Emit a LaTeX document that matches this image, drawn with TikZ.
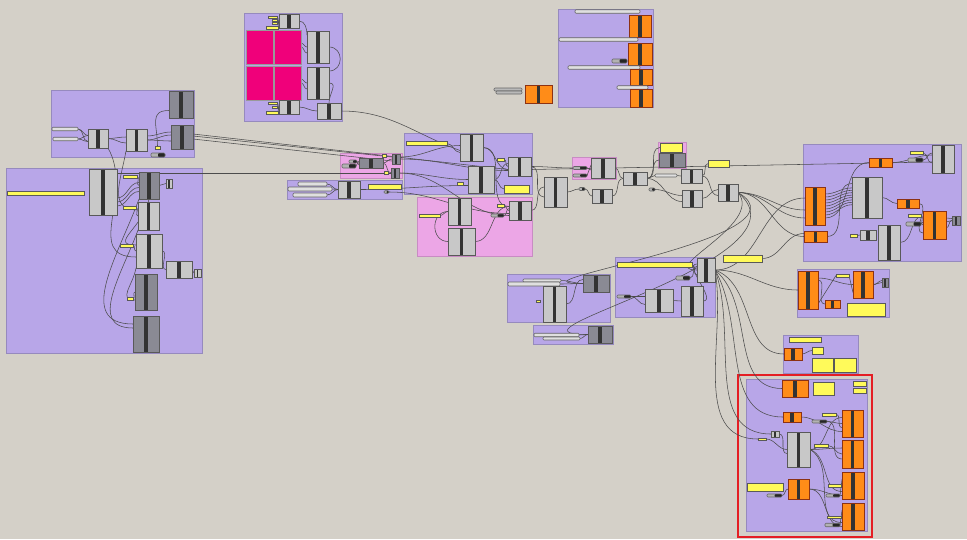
\documentclass[tikz,border=0pt]{standalone}
\usetikzlibrary{positioning}

\definecolor{canvas}{RGB}{212,208,200}
\definecolor{grpfill}{RGB}{184,166,232}
\definecolor{grpline}{RGB}{150,138,190}
\definecolor{pinkfill}{RGB}{236,166,230}
\definecolor{pinkline}{RGB}{200,140,195}
\definecolor{compgray}{RGB}{200,200,200}
\definecolor{compdark}{RGB}{138,138,148}
\definecolor{ghorange}{RGB}{255,140,24}
\definecolor{ghorline}{RGB}{140,50,20}
\definecolor{ghyellow}{RGB}{255,250,90}
\definecolor{ghmag}{RGB}{240,0,122}
\definecolor{hlred}{RGB}{228,30,36}

\pgfdeclarelayer{bg}
\pgfdeclarelayer{wires}
\pgfsetlayers{bg,wires,main}

\begin{document}
\begin{tikzpicture}[
    x=1pt, y=-1pt,
    sz/.style 2 args={minimum width=#1pt, minimum height=#2pt},
    group/.style={
        rectangle,
        draw=grpline,
        fill=grpfill,
        line width=0.8pt,
        inner sep=0pt,
        outer sep=0pt
    },
    pink group/.style={group, draw=pinkline, fill=pinkfill},
    comp/.style={
        rectangle,
        draw=black!65,
        fill=compgray,
        line width=0.7pt,
        inner sep=0pt,
        outer sep=0pt,
        path picture={\fill[black!80] ([xshift=-1.7pt]path picture bounding box.north) rectangle ([xshift=1.7pt]path picture bounding box.south);}
    },
    mini/.style={comp,
        path picture={\fill[black!80] ([xshift=-0.9pt]path picture bounding box.north) rectangle ([xshift=0.9pt]path picture bounding box.south);}
    },
    comp dark/.style={comp, fill=compdark},
    comp orange/.style={comp, draw=ghorline, fill=ghorange},
    panel/.style={
        rectangle,
        draw=black!65,
        fill=ghyellow,
        line width=0.7pt,
        inner sep=0pt,
        outer sep=0pt
    },
    tag/.style={panel, line width=0.5pt},
    slider/.style={
        rectangle,
        rounded corners=1pt,
        draw=black!60,
        fill=gray!25,
        line width=0.6pt,
        inner sep=0pt,
        outer sep=0pt
    },
    knob/.style={slider, fill=gray!60,
        path picture={\fill[black!85] (path picture bounding box.north) rectangle (path picture bounding box.south east);}
    },
    swatch/.style={rectangle, draw=black!40, fill=ghmag, line width=0.6pt, inner sep=0pt, outer sep=0pt},
    highlight/.style={rectangle, draw=hlred, fill=canvas, line width=2.2pt, inner sep=0pt},
    wire/.style={draw=black!70, line width=0.55pt}
]

\begin{pgfonlayer}{bg}
\fill[canvas] (0,0) rectangle (967,539);
\node[group, sz={143}{67}] (gInputs) at (122.5,123.5) {};
\node[group, sz={196}{185}] (gSetup) at (104,260.5) {};
\node[group, sz={98}{108}] (gSwatch) at (293,67) {};
\node[group, sz={95}{98}] (gParams) at (605.5,58) {};
\node[pink group, sz={62}{25}] (gMerge) at (371,165.5) {};
\node[group, sz={115}{19}] (gRange) at (344.5,189.5) {};
\node[group, sz={128}{61}] (gCore) at (468,163.5) {};
\node[pink group, sz={115}{59}] (gCoreB) at (474.5,226.5) {};
\node[pink group, sz={44}{22}] (gPick) at (594,168) {};
\node[pink group, sz={28}{26}] (gFlag) at (672,155) {};
\node[group, sz={103}{48}] (gLeftA) at (558.5,298) {};
\node[group, sz={80}{19}] (gLeftB) at (573,334.5) {};
\node[group, sz={100}{60}] (gHub) at (665,287) {};
\node[group, sz={92}{48}] (gMid) at (843,293) {};
\node[group, sz={75}{38}] (gSmall) at (820.5,354) {};
\node[highlight, sz={134}{162}] (hl) at (805,456) {};
\node[group, sz={121}{152}] (gFocus) at (806.5,455) {};
\node[group, sz={158}{117}] (gOut) at (882,202.5) {};
\end{pgfonlayer}
\useasboundingbox (0,0) rectangle (967,539);

% inputs
\node[slider, sz={26}{3.5}] (aS1) at (65,129) {};
\node[slider, sz={25}{3.5}] (aS2) at (65.5,139) {};
\node[comp, sz={20}{19}] (aC1) at (98,138.5) {};
\node[comp, sz={21}{22}] (aC2) at (136.5,140) {};
\node[comp dark, sz={24}{27}] (aD1) at (181,104.5) {};
\node[comp dark, sz={22}{24}] (aD2) at (182,137) {};
\node[tag, sz={5}{3}] (aT1) at (157.5,147.5) {};
\node[knob, sz={14}{4}] (aK1) at (158,155) {};

% setup
\node[panel, sz={77}{4}] (bP1) at (45.5,193) {};
\node[comp, sz={28}{46}] (bC1) at (103,192) {};
\node[comp dark, sz={20}{27}] (bD1) at (149,185.5) {};
\node[mini, sz={6}{9}] (bS1) at (169,183.5) {};
\node[comp, sz={21}{28}] (bC2) at (148.5,216) {};
\node[comp, sz={26}{34}] (bC3) at (149,251) {};
\node[comp, sz={26}{17}] (bC4) at (179,269.5) {};
\node[mini, sz={7}{8}] (bS2) at (197.5,273) {};
\node[comp dark, sz={22}{36}] (bD2) at (146,292) {};
\node[comp dark, sz={26}{36}] (bD3) at (146,334) {};
\node[tag, sz={14}{3}] (bT1) at (130,176.5) {};
\node[tag, sz={13}{3}] (bT2) at (129.5,207.5) {};
\node[tag, sz={13}{3}] (bT3) at (126.5,245.5) {};
\node[tag, sz={6}{3}] (bT4) at (130,299) {};

% swatches
\node[swatch, sz={27}{34}] (cM1) at (259.5,47) {};
\node[swatch, sz={27}{34}] (cM2) at (287.5,47) {};
\node[swatch, sz={27}{34}] (cM3) at (259.5,83) {};
\node[swatch, sz={27}{34}] (cM4) at (287.5,83) {};
\node[comp, sz={20}{14}] (cC1) at (289,21) {};
\node[comp, sz={20}{14}] (cC2) at (289,107) {};
\node[comp, sz={22}{32}] (cC3) at (318,47) {};
\node[comp, sz={22}{32}] (cC4) at (318,83) {};
\node[comp, sz={24}{16}] (cC5) at (329,111) {};
\node[tag, sz={9}{2.5}] (cT1) at (272.5,17) {};
\node[tag, sz={5}{2}] (cT2) at (274.5,20.5) {};
\node[tag, sz={5}{2}] (cT3) at (274.5,23.5) {};
\node[tag, sz={12}{2.5}] (cT4) at (272,27.5) {};
\node[tag, sz={9}{2.5}] (cT5) at (272.5,103) {};
\node[tag, sz={5}{2}] (cT6) at (274.5,107) {};
\node[tag, sz={12}{2.5}] (cT7) at (272,112.5) {};

% loose orange
\node[slider, fill=gray!55, sz={28}{3}] (oS1) at (508,89.5) {};
\node[slider, fill=gray!55, sz={26}{3}] (oS2) at (509,92.5) {};
\node[comp orange, sz={27}{18}] (oA) at (538.5,94) {};

% parameters
\node[slider, sz={65}{3.5}] (dS1) at (607.5,11.5) {};
\node[comp orange, sz={22}{22}] (dO1) at (640,26) {};
\node[slider, sz={79}{3.5}] (dS2) at (598.5,39.5) {};
\node[comp orange, sz={24}{22}] (dO2) at (640,54) {};
\node[knob, sz={15}{4}] (dK1) at (619.5,61) {};
\node[slider, sz={72}{3.5}] (dS3) at (604,67.5) {};
\node[comp orange, sz={22}{16}] (dO3) at (641,77) {};
\node[slider, sz={31}{3.5}] (dS4) at (632.5,87.5) {};
\node[comp orange, sz={22}{18}] (dO4) at (641,98) {};

% merge
\node[knob, sz={8}{3}] (mK1) at (353,161.5) {};
\node[knob, sz={14}{4}] (mK2) at (349,166) {};
\node[comp dark, sz={24}{10}] (mD1) at (371,163) {};
\node[tag, sz={4}{3}] (mT1) at (384,155.5) {};
\node[tag, sz={4}{3}] (mT2) at (386,173) {};
\node[mini, fill=compdark, sz={8}{10}] (mD2) at (396,159) {};
\node[mini, fill=compdark, sz={8}{10}] (mD3) at (395,173) {};

% range
\node[slider, sz={29}{4}] (rgS1) at (312.5,184) {};
\node[slider, sz={44}{4}] (rgS2) at (310,189) {};
\node[slider, sz={34}{4}] (rgS3) at (310,195) {};
\node[comp, sz={22}{17}] (rgC) at (349,189.5) {};
\node[panel, sz={33}{5}] (rgP) at (384.5,186.5) {};
\node[knob, sz={5}{2.5}] (rgK) at (386.5,192) {};

% core
\node[panel, sz={41}{3.5}] (kP1) at (426.5,143.5) {};
\node[comp, sz={23}{27}] (kA) at (471.5,147.5) {};
\node[comp, sz={26}{27}] (kB) at (481,179.5) {};
\node[tag, sz={7}{3}] (kT1) at (500.5,159.5) {};
\node[comp, sz={23}{19}] (kD) at (519.5,166.5) {};
\node[tag, sz={6}{3}] (kT2) at (460,184) {};
\node[panel, sz={25}{8}] (kP2) at (516.5,189) {};

% core b
\node[tag, sz={21}{3}] (kbT1) at (429.5,215.5) {};
\node[comp, sz={23}{27}] (kbA) at (459.5,211.5) {};
\node[comp, sz={27}{27}] (kbB) at (461.5,241.5) {};
\node[tag, sz={7}{3}] (kbT2) at (500.5,205.5) {};
\node[knob, sz={13}{3}] (kbK) at (497.5,215.5) {};
\node[comp, sz={22}{19}] (kbC) at (520,210.5) {};

% chain
\node[comp, sz={23}{30}] (f1) at (555.5,192) {};
\node[knob, sz={14}{3}] (pkK1) at (580,168) {};
\node[knob, sz={14}{3}] (pkK2) at (580,175.5) {};
\node[comp, sz={24}{20}] (pkC) at (603,168) {};
\node[knob, sz={6}{3}] (f3) at (582,189) {};
\node[comp, sz={20}{14}] (f2) at (602,196) {};
\node[comp, sz={24}{13}] (f4) at (635,178.5) {};
\node[panel, sz={22}{9}] (flP) at (671,147.5) {};
\node[comp dark, sz={26}{14}] (flD) at (672,160) {};
\node[slider, sz={22}{3}] (f5) at (666,175.5) {};
\node[comp, sz={21}{14}] (f6) at (691.5,176) {};
\node[panel, sz={21}{7}] (f7) at (718.5,163.5) {};
\node[knob, sz={6}{3}] (f8) at (652,189.5) {};
\node[comp, sz={20}{17}] (f9) at (692,198.5) {};
\node[comp, sz={20}{17}] (f10) at (728,192.5) {};

% left a / b
\node[slider, sz={38}{3}] (laS1) at (542,280.5) {};
\node[slider, sz={52}{4}] (laS2) at (534,284) {};
\node[comp dark, sz={26}{17}] (laD) at (596,283.5) {};
\node[comp, sz={23}{36}] (laC) at (554.5,304) {};
\node[tag, sz={4}{2.5}] (laT) at (538,301) {};
\node[slider, sz={45}{3.5}] (lbS1) at (556.5,335) {};
\node[slider, sz={37}{3}] (lbS2) at (561.5,338.5) {};
\node[comp dark, sz={24}{17}] (lbD) at (600,334.5) {};

% hub
\node[panel, sz={75}{5}] (hP) at (654.5,264.5) {};
\node[comp, sz={18}{24}] (hA) at (706,270) {};
\node[knob, sz={14}{4}] (hK1) at (683,278) {};
\node[knob, sz={14}{3}] (hK2) at (624,296.5) {};
\node[comp, sz={28}{23}] (hB) at (659,300.5) {};
\node[comp, sz={22}{30}] (hC) at (692,301) {};
\node[panel, sz={39}{7}] (f11) at (742.5,258.5) {};

% mid
\node[comp orange, sz={20}{38}] (mdA) at (808,290) {};
\node[tag, sz={13}{3}] (mdT) at (842.5,275.5) {};
\node[comp orange, sz={20}{27}] (mdB) at (863,284.5) {};
\node[mini, fill=compdark, sz={6}{9}] (mdS) at (885,282.5) {};
\node[comp orange, sz={15}{8}] (mdC) at (832.5,304) {};
\node[panel, sz={38}{13}] (mdP) at (866,309.5) {};

% small
\node[panel, sz={32}{5}] (smP1) at (805,339.5) {};
\node[comp orange, sz={18}{12}] (smA) at (793,354) {};
\node[panel, sz={11}{7}] (smP2) at (817.5,350.5) {};
\node[panel, sz={21}{14}] (smP3) at (822.5,365) {};
\node[panel, sz={22}{14}] (smP4) at (845,365) {};

% focus
\node[comp orange, sz={26}{17}] (q1) at (795,388.5) {};
\node[panel, sz={21}{13}] (q2) at (823.5,388.5) {};
\node[tag, sz={13}{5}] (qT1) at (859.5,384) {};
\node[tag, sz={13}{5}] (qT2) at (859.5,390.5) {};
\node[comp orange, sz={18}{10}] (q3) at (792,417) {};
\node[tag, sz={14}{3}] (qT3) at (829,414.5) {};
\node[knob, sz={15}{3}] (qK1) at (819.5,421.5) {};
\node[comp orange, sz={21}{27}] (q4) at (852.5,423.5) {};
\node[comp orange, sz={21}{28}] (q5) at (852.5,454) {};
\node[comp orange, sz={22}{27}] (q6) at (853,485.5) {};
\node[comp orange, sz={22}{27}] (q7) at (853,516.5) {};
\node[mini, sz={8}{6}] (q8) at (775,434) {};
\node[tag, sz={8}{2.5}] (qT4) at (762,439) {};
\node[comp, sz={23}{35}] (q9) at (798.5,449.5) {};
\node[tag, sz={14}{3}] (qT5) at (821,445.5) {};
\node[panel, sz={36}{8}] (q10) at (765,487) {};
\node[comp orange, sz={21}{20}] (q11) at (798.5,489) {};
\node[knob, sz={15}{3}] (qK2) at (774.5,495.5) {};
\node[tag, sz={13}{3}] (qT6) at (834.5,485.5) {};
\node[knob, sz={14}{3}] (qK3) at (833,495.5) {};
\node[tag, sz={14}{2.5}] (qT7) at (834,517) {};
\node[knob, sz={15}{3.5}] (qK4) at (832.5,525) {};

% output
\node[comp, sz={22}{28}] (oC1) at (943,159) {};
\node[tag, sz={13}{3}] (oT1) at (916.5,153) {};
\node[knob, sz={15}{4}] (oK1) at (915.5,160) {};
\node[comp orange, sz={23}{9}] (oO2) at (880.5,162.5) {};
\node[comp orange, sz={20}{38}] (oO3) at (815,206) {};
\node[comp, sz={30}{41}] (oC4) at (867,197.5) {};
\node[comp orange, sz={22}{9}] (oO5) at (908,203.5) {};
\node[tag, sz={13}{3}] (oT2) at (914.5,216) {};
\node[knob, sz={15}{4}] (oK2) at (913.5,224) {};
\node[comp orange, sz={23}{28}] (oO6) at (934.5,225) {};
\node[mini, fill=compdark, sz={8}{9}] (oS7) at (956,220.5) {};
\node[comp orange, sz={23}{11}] (oO8) at (815.5,236.5) {};
\node[tag, sz={7}{3}] (oT3) at (853.5,235.5) {};
\node[comp, sz={16}{10}] (oC9) at (868,235) {};
\node[comp, sz={22}{35}] (oC10) at (889,242.5) {};

\begin{pgfonlayer}{wires}
% inputs and setup
\draw[wire] (aS1.east) to[out=0,in=180] ([yshift=-3pt]aC1.west);
\draw[wire] (aS1.east) to[out=0,in=180] ([yshift=3pt]aC1.west);
\draw[wire] (aS2.east) to[out=0,in=180] ([yshift=-3pt]aC1.west);
\draw[wire] (aS2.east) to[out=0,in=180] ([yshift=3pt]aC1.west);
\draw[wire] (aC1.east) to[out=0,in=180] ([yshift=-3pt]aC2.west);
\draw[wire] (aC1.east) to[out=0,in=180] ([yshift=3pt]aC2.west);
\draw[wire] (aC2.east) to[out=0,in=180] ([yshift=-4pt]aD2.west);
\draw[wire] (aC2.east) to[out=0,in=180] ([yshift=2pt]aD2.west);
\draw[wire] ([yshift=4pt]aC2.east) to[out=0,in=180] ([yshift=5pt]aD2.west);
\draw[wire] (aT1.north) to[out=90,in=180,looseness=1.4] ([yshift=-6pt]aD1.west);
\draw[wire] ([yshift=-2pt]aD2.east) -- ([yshift=-2pt]mD2.west);
\draw[wire] ([yshift=1pt]aD2.east) -- ([yshift=2pt]mD2.west);
\draw[wire] ([yshift=3pt]aD2.east) -- ([yshift=-3pt]kD.west);
\draw[wire] ([yshift=-4pt]bC1.north east) -- (mD3.west);
\draw[wire] ([yshift=-14pt]bC1.east) to[out=0,in=180] ([yshift=-6pt]bD1.west);
\draw[wire] ([yshift=-10pt]bC1.east) to[out=0,in=180] ([yshift=-2pt]bD1.west);
\draw[wire] ([yshift=-6pt]bC1.east) to[out=0,in=180] ([yshift=3pt]bD1.west);
\draw[wire] (bT1.east) to[out=0,in=180] (bD1.west);
\draw[wire] (bT2.east) to[out=0,in=180] (bC2.west);
\draw[wire] (bT3.east) to[out=0,in=180] (bC3.west);
\draw[wire] (bT4.east) to[out=0,in=180] (bD2.west);
\draw[wire] (bD1.east) to[out=0,in=180] (bS1.west);
\draw[wire] (bC4.east) to[out=0,in=180] (bS2.west);
\draw[wire] (aC1.south east) to[out=-60,in=180,looseness=1.2] ([yshift=-6pt]bC3.west);
\draw[wire] (aC2.south west) to[out=-100,in=180,looseness=1.3] ([yshift=6pt]bC2.west);
\draw[wire] (bD1.south) to[out=-100,in=180,looseness=1.5] ([yshift=6pt]bC3.west);
\draw[wire] (bC2.south west) to[out=-110,in=180,looseness=1.2] ([yshift=6pt]bD3.west);
\draw[wire] (bD1.south west) to[out=-110,in=180,looseness=1.2] ([yshift=10pt]bD3.west);
\draw[wire] (bC3.south west) to[out=-100,in=180,looseness=1.4] ([yshift=-8pt]bD2.west);
\draw[wire] (bC3.east) to[out=0,in=180] (bC4.west);
% swatches
\draw[wire] (cT1.east) -- ([yshift=-3pt]cC1.west);
\draw[wire] (cT4.east) -- ([yshift=3pt]cC1.west);
\draw[wire] (cT5.east) -- ([yshift=-3pt]cC2.west);
\draw[wire] (cT7.east) -- ([yshift=3pt]cC2.west);
\draw[wire] (cM2.east) to[out=0,in=180] ([yshift=-6pt]cC3.west);
\draw[wire] ([yshift=4pt]cM2.east) to[out=0,in=180] (cC3.west);
\draw[wire] (cM4.east) to[out=0,in=180] ([yshift=-6pt]cC4.west);
\draw[wire] ([yshift=4pt]cM4.east) to[out=0,in=180] (cC4.west);
\draw[wire] (cC1.east) to[out=0,in=90] ([yshift=-4pt]cC3.north west);
\draw[wire] (cC3.east) to[out=0,in=0,looseness=1.6] ([yshift=-4pt]cC4.north east);
\draw[wire] (cC4.east) to[out=0,in=90,looseness=1.2] (cC5.north);
\draw[wire] (cC2.east) to[out=0,in=180] (cC5.west);
\draw[wire] (cC5.east) to[out=0,in=160] ([yshift=-3pt]kA.west);
% merge, range, core
\draw[wire] (mK1.east) -- ([yshift=-2pt]mD1.west);
\draw[wire] (mK2.east) -- ([yshift=2pt]mD1.west);
\draw[wire] (mD1.east) to[out=0,in=180] (mD2.west);
\draw[wire] (mD1.east) to[out=0,in=180] (mD3.west);
\draw[wire] (mD2.east) to[out=0,in=180] ([yshift=-4pt]kD.west);
\draw[wire] ([yshift=2pt]mD2.east) to[out=0,in=180] ([yshift=2pt]kA.west);
\draw[wire] (mD3.east) to[out=0,in=180] (kB.west);
\draw[wire] (mD3.east) to[out=0,in=180] ([yshift=-5pt]kbC.west);
\draw[wire] (rgS1.east) to[out=0,in=180] (rgC.west);
\draw[wire] (rgS2.east) to[out=0,in=180] (rgC.west);
\draw[wire] (rgS3.east) to[out=0,in=180] (rgC.west);
\draw[wire] (rgC.east) to[out=0,in=180] ([yshift=-6pt]kB.west);
\draw[wire] (rgK.east) to[out=0,in=180] ([yshift=-3pt]kbC.west);
\draw[wire] (kP1.east) to[out=0,in=180] ([yshift=-5pt]kA.west);
\draw[wire] (kA.east) to[out=0,in=180] ([yshift=-3pt]kD.west);
\draw[wire] (kA.east) to[out=0,in=180] ([yshift=4pt]kbC.west);
\draw[wire] (kB.east) to[out=0,in=180] ([yshift=3pt]kD.west);
\draw[wire] (kB.east) to[out=0,in=180] (kP2.west);
\draw[wire] (kT1.east) to[out=0,in=180] (kD.west);
\draw[wire] (kbT1.east) to[out=0,in=180] (kbA.west);
\draw[wire] (kbB.west) to[out=180,in=180,looseness=1.5] (kbA.west);
\draw[wire] (kbB.east) to[out=0,in=180] ([yshift=4pt]kbC.west);
\draw[wire] (kbT2.east) to[out=0,in=180] (kbC.west);
\draw[wire] (kbK.east) to[out=0,in=180] ([yshift=2pt]kbC.west);
% chain
\draw[wire] ([yshift=-3pt]kD.east) -- ([yshift=-3pt]oC1.west);
\draw[wire] (kD.east) to[out=0,in=180] ([yshift=-5pt]f1.west);
\draw[wire] (kbC.east) to[out=0,in=180] ([yshift=5pt]f1.west);
\draw[wire] (kD.east) to[out=0,in=180] (pkK1.west);
\draw[wire] (f1.east) to[out=0,in=180] (f3.west);
\draw[wire] (pkK1.east) -- ([yshift=-2pt]pkC.west);
\draw[wire] (pkK2.east) -- ([yshift=3pt]pkC.west);
\draw[wire] (pkC.east) to[out=0,in=180] (f4.west);
\draw[wire] (f3.east) to[out=0,in=180] (f2.west);
\draw[wire] (f2.east) to[out=0,in=180] (f4.west);
\draw[wire] (f4.east) to[out=0,in=180] (flD.west);
\draw[wire] (f4.east) to[out=0,in=180] (flP.west);
\draw[wire] (f4.east) to[out=0,in=180] (f5.west);
\draw[wire] (f5.east) to[out=0,in=180] (f6.west);
\draw[wire] (f4.east) to[out=0,in=180] ([yshift=-3pt]f9.west);
\draw[wire] (f8.east) to[out=0,in=180] ([yshift=3pt]f9.west);
\draw[wire] (f6.east) to[out=0,in=180] (f7.west);
\draw[wire] (f6.east) to[out=0,in=180] ([yshift=-3pt]f10.west);
\draw[wire] (f9.east) to[out=0,in=180] ([yshift=3pt]f10.west);
% fan out
\draw[wire] (f10.east) to[out=0,in=180] ([yshift=-12pt]oO3.west);
\draw[wire] (f10.east) to[out=0,in=180] ([yshift=-4pt]oO3.west);
\draw[wire] (f10.east) to[out=0,in=180] (oO8.west);
\draw[wire] (f10.east) to[out=-30,in=180,looseness=1.3] (laD.west);
\draw[wire] (f10.east) to[out=-40,in=180,looseness=1.3] (lbD.west);
\draw[wire] (f10.east) to[out=-50,in=180,looseness=1.2] (hA.west);
\draw[wire] (f11.east) to[out=0,in=180] ([yshift=3pt]oO8.west);
\draw[wire] (hA.east) to[out=0,in=180] ([yshift=8pt]oO3.west);
\draw[wire] (hA.east) to[out=0,in=180] (mdA.west);
\draw[wire] (hA.east) to[out=-20,in=180] (smA.west);
\draw[wire] (hA.east) to[out=-40,in=180] (q1.west);
\draw[wire] (hA.east) to[out=-60,in=180] (q3.west);
\draw[wire] (hA.east) to[out=-70,in=180] (q8.west);
\draw[wire] (hA.east) to[out=-80,in=180] (qT4.west);
% left a / b / hub
\draw[wire] (laS1.east) to[out=0,in=180] (laD.west);
\draw[wire] (laS2.east) to[out=0,in=180] (laD.west);
\draw[wire] (laC.east) to[out=0,in=180] ([yshift=4pt]laD.west);
\draw[wire] (lbS1.east) to[out=0,in=180] (lbD.west);
\draw[wire] (lbS2.east) to[out=0,in=180] (lbD.west);
\draw[wire] (hP.east) to[out=0,in=180] ([yshift=-5pt]hA.west);
\draw[wire] (hK1.east) to[out=0,in=180] ([yshift=4pt]hA.west);
\draw[wire] (hK2.east) to[out=0,in=180] ([yshift=-4pt]hB.west);
\draw[wire] (hK2.east) to[out=0,in=180] ([yshift=4pt]hB.west);
\draw[wire] (hB.east) to[out=0,in=180] (hC.west);
\draw[wire] (hC.east) to[out=0,in=180] ([yshift=6pt]hA.west);
% mid, small
\draw[wire] ([yshift=-14pt]mdA.east) -- (mdT.west);
\draw[wire] (mdT.east) -- ([yshift=-8pt]mdB.west);
\draw[wire] ([yshift=10pt]mdA.east) to[out=0,in=180] (mdC.west);
\draw[wire] ([yshift=12pt]mdA.east) to[out=0,in=180] (mdB.west);
\draw[wire] (mdB.east) to[out=0,in=180] (mdS.west);
\draw[wire] (mdB.east) to[out=-20,in=180] ([yshift=2pt]mdS.west);
\draw[wire] (smA.east) to[out=0,in=180] (smP2.west);
% focus
\draw[wire] (q3.east) to[out=0,in=180] ([yshift=-8pt]q4.west);
\draw[wire] (qT3.east) to[out=0,in=180] ([yshift=-4pt]q4.west);
\draw[wire] (qK1.east) to[out=0,in=180] (q4.west);
\draw[wire] (qK1.east) to[out=0,in=180] ([yshift=-5pt]q5.west);
\draw[wire] (qT4.east) to[out=0,in=180] (q9.west);
\draw[wire] (q8.east) to[out=0,in=180] ([yshift=-4pt]q9.west);
\draw[wire] (q9.east) to[out=0,in=180] ([yshift=6pt]q4.west);
\draw[wire] (qT5.east) to[out=0,in=180] (q5.west);
\draw[wire] (q9.east) to[out=0,in=180] ([yshift=6pt]q5.west);
\draw[wire] (q9.east) to[out=-20,in=180] ([yshift=-6pt]q6.west);
\draw[wire] (q9.east) to[out=-30,in=180] ([yshift=-6pt]q7.west);
\draw[wire] (q11.east) to[out=0,in=180] ([yshift=-10pt]q6.west);
\draw[wire] (q11.east) to[out=0,in=180] ([yshift=-10pt]q7.west);
\draw[wire] (qK2.east) to[out=0,in=180] (q11.west);
\draw[wire] (qT6.east) -- ([yshift=0pt]q6.west);
\draw[wire] (qK3.east) -- ([yshift=6pt]q6.west);
\draw[wire] (qT7.east) -- ([yshift=0pt]q7.west);
\draw[wire] (qK4.east) -- ([yshift=6pt]q7.west);
% output
\draw[wire] ([yshift=-12pt]oO3.east) to[out=0,in=180] (oO2.west);
\foreach \dy in {-9,-6,-3,0,3,6,9,12} {
    \draw[wire] ([yshift=\dy pt]oO3.east) to[out=0,in=180] ([yshift=0.8*\dy pt]oC4.west);
}
\draw[wire] (oO8.east) to[out=0,in=180] ([yshift=14pt]oC4.west);
\draw[wire] (oO2.east) to[out=0,in=180] ([yshift=4pt]oC1.west);
\draw[wire] (oT1.east) to[out=0,in=180] ([yshift=-4pt]oC1.west);
\draw[wire] (oK1.east) to[out=0,in=180] ([yshift=6pt]oC1.west);
\draw[wire] (oC4.east) to[out=0,in=180] (oO5.west);
\draw[wire] (oO5.east) to[out=0,in=180] ([yshift=-8pt]oO6.west);
\draw[wire] (oT2.east) to[out=0,in=180] (oO6.west);
\draw[wire] (oK2.east) to[out=0,in=180] ([yshift=3pt]oO6.west);
\draw[wire] (oC10.east) to[out=0,in=180] ([yshift=9pt]oO6.west);
\draw[wire] (oT3.east) -- (oC9.west);
\draw[wire] ([yshift=-3pt]oO6.east) to[out=0,in=180] (oS7.west);
\draw[wire] ([yshift=3pt]oO6.east) to[out=0,in=180] (oS7.west);
\draw[wire] ([yshift=7pt]oO6.east) to[out=0,in=180] ([yshift=2pt]oS7.west);
\end{pgfonlayer}

\end{tikzpicture}
\end{document}
